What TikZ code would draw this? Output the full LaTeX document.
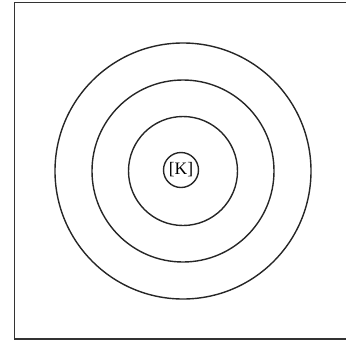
\documentclass[tikz,border=0pt]{standalone}
\usepackage{fontspec}
\setmainfont{Liberation Serif}
\begin{document}
\begin{tikzpicture}[x=1pt,y=-1pt,
  ring/.style={draw=black!85, line width=1.4pt},
  frame/.style={draw=black!80, line width=1.8pt}]
\useasboundingbox (0,0) rectangle (346,341);
\begin{scope}
\clip (0,0) rectangle (346,341);
\draw[frame] (14.5,2.5) rectangle (352,339);
\end{scope}
\coordinate (c) at (183,171);
\draw[ring] (c) circle[radius=128];
\draw[ring] (c) circle[radius=91];
\draw[ring] (c) circle[radius=54.5];
\node[ring, circle, minimum size=35pt, inner sep=0pt, font=\fontsize{17.5}{17.5}\selectfont] (k) at (181,170) {[K]};
\end{tikzpicture}
\end{document}
